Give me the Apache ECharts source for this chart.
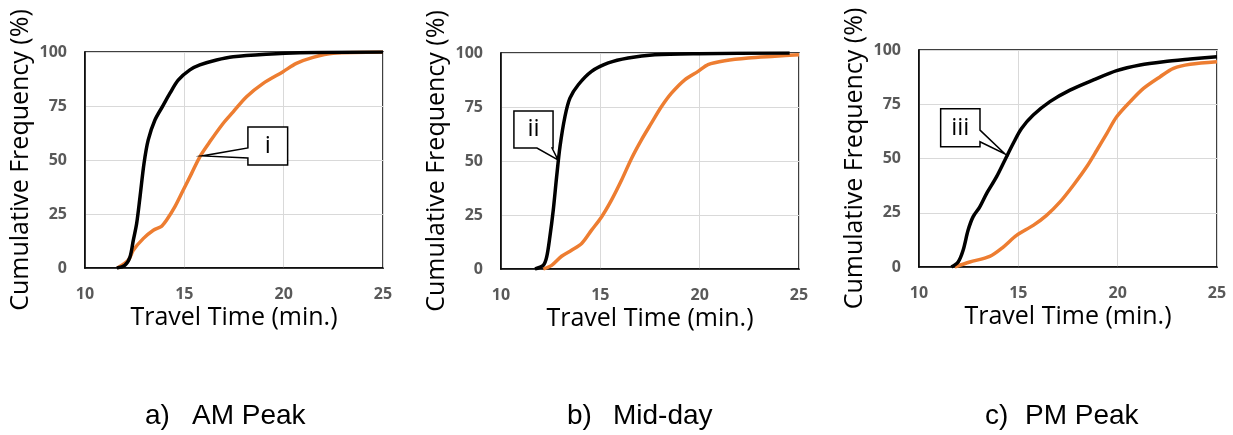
<!DOCTYPE html>
<html><head><meta charset="utf-8">
<script src="https://cdn.jsdelivr.net/npm/echarts@6/dist/echarts.min.js"></script>
<style>html,body{margin:0;padding:0;background:#fff}#c{width:1233px;height:435px}</style>
</head><body><div id="c"></div>
<script>
// ---- data (travel time in min, cumulative frequency in %) ----
const xTicks = [10, 15, 20, 25];
const yTicks = [0, 25, 50, 75, 100];
const panelLabels = ["a)", "b)", "c)"];
const panelNames = ["AM Peak", "Mid-day", "PM Peak"];
const xTitle = "Travel Time (min.)";
const yTitle = "Cumulative Frequency (%)";

const amBlack = [[11.6,0],[12.0,1.2],[12.26,5],[12.43,12.8],[12.6,20.6],[12.77,33],[12.97,48.4],[13.18,59.2],[13.52,68.5],[13.94,75.4],[14.27,80.8],[14.69,87],[15.28,91.7],[15.78,94],[16.62,96.3],[17.46,97.8],[19.13,99],[20.8,99.7],[25,100]];
const amOrange = [[11.63,0],[12.18,3.6],[12.43,8.2],[12.93,13.6],[13.44,17.5],[13.85,19.3],[14.1,22.1],[14.52,28.3],[14.94,36],[15.36,43.7],[15.78,51.5],[16.28,58.4],[16.95,66.9],[17.46,72.3],[18.13,79.3],[18.97,85.5],[19.97,90.9],[20.64,94.7],[21.48,97.5],[22.49,99.4],[25,100]];
const midBlack = [[11.71,0],[12.13,1.7],[12.3,5.6],[12.46,14.9],[12.63,27.2],[12.8,42.7],[12.97,56.7],[13.22,70.6],[13.47,79.1],[13.89,85.3],[14.56,91.5],[15.4,95.4],[16.4,97.7],[17.74,99.2],[19.92,99.7],[24.53,100]];
const midOrange = [[12.13,0],[12.55,1.7],[13.05,5.9],[13.55,8.7],[14.06,11.8],[14.56,18],[15.06,24.1],[15.56,31.9],[16.07,41.2],[16.57,51.2],[17.07,59.8],[17.57,67.5],[18.08,75.2],[18.58,81.4],[19.25,87.6],[19.92,91.5],[20.42,94.6],[21.26,96.4],[22.44,97.7],[23.78,98.5],[25,99.2]];
const pmBlack = [[11.63,0],[11.97,2.3],[12.22,7.7],[12.47,16.9],[12.72,23.1],[13.06,27.7],[13.4,33.8],[13.9,41.5],[14.32,49.2],[14.74,56.9],[15.16,63.8],[15.75,70],[16.59,76.2],[17.6,81.5],[18.78,86.2],[19.95,90.5],[21.13,93.1],[22.31,94.6],[23.65,95.8],[25,96.9]];
const pmOrange = [[11.8,0],[12.56,2.3],[13.56,4.9],[14.24,9.2],[14.91,14.6],[15.75,19.2],[16.42,23.8],[17.1,30],[17.77,37.7],[18.44,46.2],[18.95,53.8],[19.45,61.5],[19.95,69.2],[20.63,76.2],[21.3,82.3],[22.14,87.7],[22.81,91.5],[23.65,93.4],[25,94.6]];

// callouts: label, box corners [x0,y0,x1,y1] in data units, wedge [base1, tip, base2]
const calloutLabels = ["i", "ii", "iii"];
const calloutBoxes = [[18.2,65.3,20.2,47.7],[10.65,73.1,12.62,56.0],[11.09,72.9,13.07,55.4]];
const calloutWedges = [
  [[18.2,55.6],[15.9,51.9],[18.2,50.9]],
  [[11.81,56.0],[12.87,50.5],[12.57,56.0]],
  [[13.07,63.1],[14.33,52.1],[13.07,57.7]]
];
const calloutSides = ["left", "bottom", "right"];

const seriesBlack = [amBlack, midBlack, pmBlack];
const seriesOrange = [amOrange, midOrange, pmOrange];

// ---- layout ----
const grids = [
  {left: 85, top: 52, width: 298, height: 216},
  {left: 501, top: 53, width: 298, height: 216},
  {left: 919, top: 50, width: 298, height: 217}
];
const chart = echarts.init(document.getElementById('c'), null, {renderer: 'canvas'});
const tickFont = {color: '#595959', fontFamily: 'Open Sans', fontWeight: 'bold', fontSize: 16};
const option = {
  animation: false,
  backgroundColor: '#fff',
  grid: grids.map(g => Object.assign({show: true, borderColor: '#000', borderWidth: 1.5, backgroundColor: 'transparent'}, g)),
  xAxis: grids.map((g, i) => ({
    type: 'value', gridIndex: i, min: xTicks[0], max: xTicks[xTicks.length - 1], interval: 5,
    axisLine: {show: true, lineStyle: {color: '#000', width: 1.5}},
    axisTick: {show: false},
    splitLine: {show: true, lineStyle: {color: '#d9d9d9', width: 1}},
    axisLabel: Object.assign({margin: 18}, tickFont),
    name: xTitle, nameLocation: 'middle', nameGap: 37,
    nameTextStyle: {fontFamily: 'Open Sans', fontSize: 25, color: '#000'}
  })),
  yAxis: grids.map((g, i) => ({
    type: 'value', gridIndex: i, min: yTicks[0], max: yTicks[yTicks.length - 1], interval: 25,
    axisLine: {show: true, lineStyle: {color: '#000', width: 1.5}},
    axisTick: {show: false},
    splitLine: {show: true, lineStyle: {color: '#d9d9d9', width: 1}},
    axisLabel: Object.assign({margin: 18}, tickFont),
    name: yTitle, nameLocation: 'middle', nameGap: 52,
    nameTextStyle: {fontFamily: 'Open Sans', fontSize: 25, color: '#000'}
  })),
  series: [],
  graphic: []
};
for (let i = 0; i < 3; i++) {
  option.series.push({type: 'line', xAxisIndex: i, yAxisIndex: i, data: seriesOrange[i], smooth: 0.3, showSymbol: false,
    lineStyle: {color: '#ED7D31', width: 3.5}, itemStyle: {color: '#ED7D31'}});
  option.series.push({type: 'line', xAxisIndex: i, yAxisIndex: i, data: seriesBlack[i], smooth: 0.3, showSymbol: false,
    lineStyle: {color: '#000', width: 3.5}, itemStyle: {color: '#000'}});
}
const labelX = [145, 567, 985];
const nameX = [192, 613, 1025];
for (let i = 0; i < 3; i++) {
  option.graphic.push({type: 'text', left: labelX[i], top: 402, style: {text: panelLabels[i], fontFamily: 'Liberation Sans', fontSize: 28, fill: '#000'}});
  option.graphic.push({type: 'text', left: nameX[i], top: 402, style: {text: panelNames[i], fontFamily: 'Liberation Sans', fontSize: 28, fill: '#000'}});
}
chart.setOption(option);

// callouts placed from data coordinates
const extra = [];
for (let i = 0; i < 3; i++) {
  const f = p => chart.convertToPixel({gridIndex: i}, p);
  const b = calloutBoxes[i];
  const tl = f([b[0], b[1]]), br = f([b[2], b[3]]);
  const w = calloutWedges[i].map(f);
  let pts;
  const TL = tl, TR = [br[0], tl[1]], BR = br, BL = [tl[0], br[1]];
  if (calloutSides[i] === 'left') pts = [TL, TR, BR, BL, w[2], w[1], w[0]];
  else if (calloutSides[i] === 'bottom') pts = [TL, TR, BR, w[2], w[1], w[0], BL];
  else pts = [TL, TR, w[0], w[1], w[2], BR, BL];
  extra.push({type: 'polygon', z: 100, shape: {points: pts}, style: {fill: '#fff', stroke: '#000', lineWidth: 1.5}});
  extra.push({type: 'text', z: 101, x: (tl[0] + br[0]) / 2, y: (tl[1] + br[1]) / 2,
    style: {text: calloutLabels[i], fontFamily: 'Open Sans', fontSize: 24, fill: '#000', align: 'center', verticalAlign: 'middle'}});
}
chart.setOption({graphic: option.graphic.concat(extra)});
</script></body></html>
